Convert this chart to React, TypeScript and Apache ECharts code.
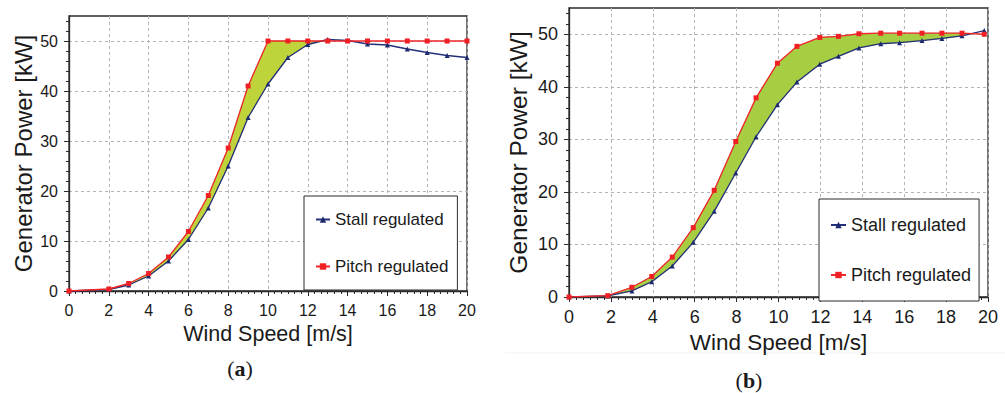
import React, { useEffect, useRef } from "react";
import * as echarts from "echarts";

// Panel (a): power curves at integer wind speeds
const speedsA = [0, 2, 3, 4, 5, 6, 7, 8, 9, 10, 11, 12, 13, 14, 15, 16, 17, 18, 19, 20];
const stallA = [0, 0.3, 1.2, 3, 6, 10.3, 16.6, 25, 34.7, 41.4, 46.7, 49.3, 50.3, 50.1, 49.4, 49.2, 48.4, 47.7, 47.1, 46.7];
const pitchA = [0, 0.4, 1.5, 3.5, 6.8, 11.9, 19.1, 28.6, 41, 50, 50, 50, 50, 50, 50, 50, 50, 50, 50, 50];

// Panel (b): power curves at measured wind speeds
const speedsB = [0, 1.85, 3.0, 3.95, 4.93, 5.93, 6.93, 7.96, 8.93, 9.95, 10.88, 11.97, 12.86, 13.84, 14.88, 15.78, 16.85, 17.8, 18.76, 19.82];
const stallB = [0, 0.2, 1.15, 2.9, 5.9, 10.4, 16.3, 23.6, 30.5, 36.6, 40.9, 44.3, 45.8, 47.4, 48.2, 48.4, 48.8, 49.2, 49.7, 50.7];
const pitchB = [0, 0.25, 1.85, 3.9, 7.6, 13.2, 20.3, 29.6, 37.9, 44.5, 47.7, 49.4, 49.6, 50.1, 50.2, 50.2, 50.2, 50.2, 50.2, 50.0];

const xTicks = [0, 2, 4, 6, 8, 10, 12, 14, 16, 18, 20];
const yTicks = [0, 10, 20, 30, 40, 50];
const yMinorTicks = [0, 2, 4, 6, 8, 10, 12, 14, 16, 18, 20, 22, 24, 26, 28, 30, 32, 34, 36, 38, 40, 42, 44, 46, 48, 50, 52, 54];

const STALL = "Stall regulated";
const PITCH = "Pitch regulated";
const FONT = "'Liberation Sans', Arial, sans-serif";

// Region between the pitch and stall curves, up to where they first cross
function gapPolygon(xs: number[], upper: number[], lower: number[]) {
  const top: number[][] = [];
  const bottom: number[][] = [];
  for (let i = 0; i < xs.length; i++) {
    const d = upper[i] - lower[i];
    if (i > 0 && d < 0) {
      const dp = upper[i - 1] - lower[i - 1];
      const t = dp / (dp - d);
      const cx = xs[i - 1] + t * (xs[i] - xs[i - 1]);
      const cy = upper[i - 1] + t * (upper[i] - upper[i - 1]);
      top.push([cx, cy]);
      break;
    }
    top.push([xs[i], upper[i]]);
    bottom.push([xs[i], lower[i]]);
  }
  return top.concat(bottom.reverse());
}

type Panel = {
  grid: { left: number; top: number; width: number; height: number };
  xs: number[];
  stall: number[];
  pitch: number[];
  fill: string;
  labelSize: number;
  xTitleSize: number;
  yTitleSize: number;
  xNameGap: number;
  yNameGap: number;
  legend: { left: number; top: number; padding: number[]; itemGap: number; fontSize: number; itemWidth: number };
};

const panels: Panel[] = [
  {
    grid: { left: 69, top: 16, width: 398, height: 275 },
    xs: speedsA,
    stall: stallA,
    pitch: pitchA,
    fill: "#bfd43a",
    labelSize: 16,
    xTitleSize: 21.5,
    yTitleSize: 24,
    xNameGap: 26,
    yNameGap: 34,
    legend: { left: 304, top: 196, padding: [15, 9, 15, 11], itemGap: 30, fontSize: 17, itemWidth: 14 },
  },
  {
    grid: { left: 569, top: 8, width: 419, height: 289 },
    xs: speedsB,
    stall: stallB,
    pitch: pitchB,
    fill: "#a7ce42",
    labelSize: 18,
    xTitleSize: 22.5,
    yTitleSize: 24.5,
    xNameGap: 31,
    yNameGap: 38,
    legend: { left: 819, top: 199, padding: [17, 8, 17, 11], itemGap: 32, fontSize: 18, itemWidth: 15 },
  },
];

export default function App() {
  const ref = useRef<HTMLDivElement>(null);

  useEffect(() => {
    if (!ref.current) return;
    const chart = echarts.init(ref.current, undefined, { renderer: "svg" });

    const grids: any[] = [];
    const xAxes: any[] = [];
    const yAxes: any[] = [];
    const series: any[] = [];
    const legends: any[] = [];

    panels.forEach((p, k) => {
      grids.push({ ...p.grid, show: true, borderColor: "#2b2b2b", borderWidth: 1.3, backgroundColor: "transparent" });

      const axisText = { color: "#1a1a1a", fontSize: p.labelSize, fontFamily: FONT };
      const split = { show: true, lineStyle: { color: "#b4b4b4", type: [3, 3], width: 1 } };

      xAxes.push({
        type: "value",
        gridIndex: k,
        min: 0,
        max: 20,
        interval: 2,
        name: "Wind Speed [m/s]",
        nameLocation: "middle",
        nameGap: p.xNameGap,
        nameTextStyle: { fontSize: p.xTitleSize, color: "#1a1a1a", fontFamily: FONT },
        axisLine: { lineStyle: { color: "#2b2b2b", width: 1.3 } },
        axisTick: { show: true, inside: false, length: 5, lineStyle: { color: "#2b2b2b" }, customValues: xTicks },
        minorTick: { show: true, splitNumber: 6, length: 3, lineStyle: { color: "#2b2b2b" } },
        axisLabel: { ...axisText, margin: 11, customValues: xTicks },
        splitLine: split,
      });

      yAxes.push({
        type: "value",
        gridIndex: k,
        min: 0,
        max: 55,
        interval: 10,
        name: "Generator Power [kW]",
        nameLocation: "middle",
        nameGap: p.yNameGap,
        nameTextStyle: { fontSize: p.yTitleSize, color: "#1a1a1a", fontFamily: FONT },
        axisLine: { show: true, lineStyle: { color: "#2b2b2b", width: 1.3 } },
        axisTick: { show: true, inside: false, length: 5, lineStyle: { color: "#2b2b2b" }, customValues: yTicks },
        axisLabel: { ...axisText, margin: 11, customValues: yTicks },
        splitLine: split,
      });
      // minor ticks every 2 kW
      yAxes.push({
        type: "value",
        gridIndex: k,
        min: 0,
        max: 55,
        interval: 2,
        position: "left",
        axisLine: { show: false },
        axisTick: { show: true, inside: false, length: 3, lineStyle: { color: "#2b2b2b" }, customValues: yMinorTicks },
        axisLabel: { show: false },
        splitLine: { show: false },
      });

      const poly = gapPolygon(p.xs, p.pitch, p.stall);
      series.push({
        type: "custom",
        xAxisIndex: k,
        yAxisIndex: 2 * k,
        silent: true,
        z: 1,
        data: [[0, 0]],
        renderItem: (_params: any, api: any) => ({
          type: "polygon",
          shape: { points: poly.map((pt) => api.coord(pt)) },
          style: { fill: p.fill, stroke: "#6f8f2a", lineWidth: 0.4 },
        }),
      });

      series.push({
        type: "line",
        name: STALL,
        xAxisIndex: k,
        yAxisIndex: 2 * k,
        z: 3,
        data: p.xs.map((x, i) => [x, p.stall[i]]),
        symbol: "triangle",
        symbolSize: 5,
        showSymbol: true,
        lineStyle: { color: "#23307a", width: 1.3 },
        itemStyle: { color: "#1c2a6e" },
      });
      series.push({
        type: "line",
        name: PITCH,
        xAxisIndex: k,
        yAxisIndex: 2 * k,
        z: 4,
        data: p.xs.map((x, i) => [x, p.pitch[i]]),
        symbol: "rect",
        symbolSize: 5,
        showSymbol: true,
        lineStyle: { color: "#f2262a", width: 1.3 },
        itemStyle: { color: "#ef1f24" },
      });

      legends.push({
        data: [STALL, PITCH],
        orient: "vertical",
        left: p.legend.left,
        top: p.legend.top,
        padding: p.legend.padding,
        itemGap: p.legend.itemGap,
        itemWidth: p.legend.itemWidth,
        itemHeight: 8,
        backgroundColor: "#ffffff",
        borderColor: "#2b2b2b",
        borderWidth: 1,
        borderRadius: 0,
        selectedMode: false,
        textStyle: { fontSize: p.legend.fontSize, color: "#1a1a1a", fontFamily: FONT },
      });
    });

    const caption = (letter: string, x: number, y: number) => ({
      type: "text",
      x,
      y,
      style: {
        text: `{p|(}{b|${letter}}{p|)}`,
        align: "center",
        verticalAlign: "middle",
        rich: {
          p: { fontFamily: "'Liberation Serif', serif", fontSize: 22, fill: "#1a1a1a" },
          b: { fontFamily: "'Liberation Serif', serif", fontSize: 22, fontWeight: "bold", fill: "#1a1a1a" },
        },
      },
    });

    chart.setOption({
      animation: false,
      backgroundColor: "#ffffff",
      grid: grids,
      xAxis: xAxes,
      yAxis: yAxes,
      legend: legends,
      series,
      graphic: [
        {
          type: "line",
          shape: { x1: 505, y1: 353, x2: 1005, y2: 353 },
          style: { stroke: "#f3f3f3", lineWidth: 1 },
          silent: true,
        },
        caption("a", 240, 368),
        caption("b", 749, 380),
      ],
    });

    return () => chart.dispose();
  }, []);

  return (
    <div
      ref={ref}
      style={{ position: "absolute", left: 0, top: 0, width: 1005, height: 393, background: "#fff" }}
    />
  );
}
